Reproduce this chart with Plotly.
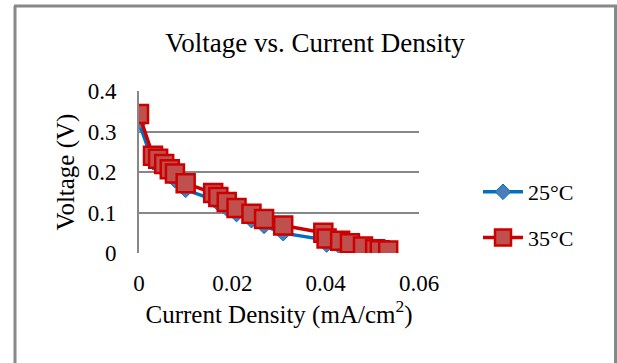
import plotly.graph_objects as go

current_density = [0.0, 0.0030, 0.0041, 0.0054, 0.0066, 0.0077, 0.0100, 0.0159, 0.0170, 0.0188,
                   0.0209, 0.0241, 0.0268, 0.0309, 0.0395, 0.0402, 0.0431, 0.0452, 0.0480, 0.0506,
                   0.0516, 0.0534]
voltage_25 = [0.322, 0.224, 0.216, 0.203, 0.191, 0.180, 0.156, 0.132, 0.122, 0.110,
              0.096, 0.081, 0.067, 0.049, 0.033, 0.021, 0.015, 0.010, 0.005, 0.001,
              0.000, 0.000]
voltage_35 = [0.343, 0.240, 0.233, 0.220, 0.207, 0.196, 0.172, 0.148, 0.138, 0.126,
              0.111, 0.097, 0.084, 0.068, 0.050, 0.036, 0.030, 0.024, 0.016, 0.009,
              0.007, 0.006]
series_names = ["25°C", "35°C"]
x_ticks = [0, 0.02, 0.04, 0.06]
x_tick_labels = ["0", "0.02", "0.04", "0.06"]
y_ticks = [0, 0.1, 0.2, 0.3, 0.4]
y_tick_labels = ["0", "0.1", "0.2", "0.3", "0.4"]

FONT = "Liberation Serif, Times New Roman, serif"
GRID = "#878787"

fig = go.Figure()
fig.add_trace(go.Scatter(
    x=current_density, y=voltage_25, name=series_names[0], mode="lines+markers",
    legendgroup="g25",
    line=dict(color="#0070C0", width=3.5),
    marker=dict(symbol="diamond", size=12, color="#4A7EBB", line=dict(color="#0070C0", width=1)),
))
fig.add_trace(go.Scatter(
    x=current_density, y=voltage_35, name=series_names[1], mode="lines+markers",
    legendgroup="g35",
    line=dict(color="#CC0000", width=3.5),
    marker=dict(symbol="square", size=18, color="#C0504D", line=dict(color="#CC0000", width=2.5)),
))

# outer chart border (left, top, right)
def px_x(p):
    return (p - 139) / 280.0

def px_y(p):
    return (253 - p) / 162.0

for (x0, y0, x1, y1) in [(15, 6, 15, 370), (14, 6, 617, 6), (615.5, 6, 615.5, 370)]:
    fig.add_shape(type="line", xref="paper", yref="paper",
                  x0=px_x(x0), y0=px_y(y0), x1=px_x(x1), y1=px_y(y1),
                  line=dict(color="#888888", width=3), layer="above")

fig.update_layout(
    width=617, height=363,
    margin=dict(l=139, r=198, t=91, b=110, autoexpand=False),
    paper_bgcolor="white", plot_bgcolor="white",
    font=dict(family=FONT, color="black", size=22),
    title=dict(text="Voltage vs. Current Density", x=315 / 617, xanchor="center",
               y=1 - 43 / 363, yanchor="middle", font=dict(size=27, family=FONT)),
    showlegend=True,
    legend=dict(x=px_x(478), y=px_y(215), xanchor="left", yanchor="middle",
                font=dict(size=22, family=FONT), tracegroupgap=14, itemwidth=40,
                bgcolor="rgba(0,0,0,0)"),
    xaxis=dict(range=[0, 0.06], tickvals=x_ticks, ticktext=x_tick_labels,
               showgrid=False, zeroline=False, showline=False, ticks="",
               ticklabelstandoff=14,
               title=dict(text="Current Density (mA/cm<sup>2</sup>)", font=dict(size=25), standoff=4),
               tickfont=dict(size=23)),
    yaxis=dict(range=[0, 0.4], tickvals=y_ticks, ticktext=y_tick_labels,
               showgrid=True, gridcolor=GRID, gridwidth=2, zeroline=False,
               showline=True, linecolor=GRID, linewidth=2, ticks="",
               ticklabelstandoff=16,
               title=dict(text="Voltage (V)", font=dict(size=25), standoff=6),
               tickfont=dict(size=23)),
)

fig.write_html("out.html")
